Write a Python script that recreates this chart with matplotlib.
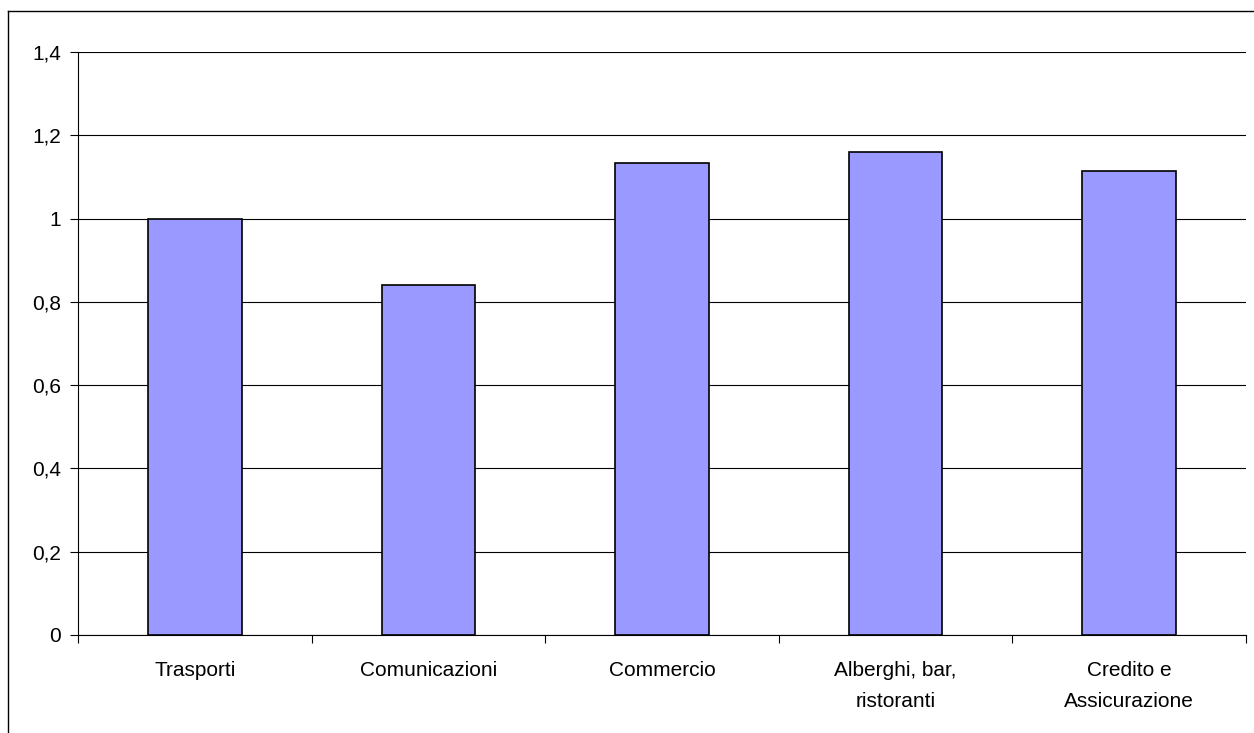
import numpy as np
import matplotlib.pyplot as plt
from matplotlib.lines import Line2D

categories = ["Trasporti", "Comunicazioni", "Commercio", "Alberghi, bar,\nristoranti", "Credito e\nAssicurazione"]
values = [1.0, 0.84, 1.133, 1.16, 1.114]
y_ticks = [0, 0.2, 0.4, 0.6, 0.8, 1.0, 1.2, 1.4]
y_labels = ["0", "0,2", "0,4", "0,6", "0,8", "1", "1,2", "1,4"]

plt.rcParams['font.family'] = ['Liberation Sans', 'DejaVu Sans']

fig = plt.figure(figsize=(12.54, 7.33), dpi=100)
ax = fig.add_axes([78 / 1254, 98 / 733, 1168 / 1254, 583 / 733])

x = np.arange(len(categories))
ax.bar(x, values, width=0.40, color="#9999FF", edgecolor="black", linewidth=1.2, zorder=3)

ax.set_xlim(-0.5, len(categories) - 0.5)
ax.set_ylim(0, 1.4)
ax.set_yticks(y_ticks)
ax.set_yticklabels(y_labels, fontsize=15)
ax.yaxis.grid(True, color="black", linewidth=0.8)
ax.set_axisbelow(True)

# ticks between categories, labels at centers
ax.set_xticks(np.arange(-0.5, len(categories), 1.0))
ax.set_xticklabels([])
ax.set_xticks(x, minor=True)
ax.set_xticklabels(categories, minor=True, fontsize=15, linespacing=1.75)
ax.tick_params(axis="x", which="minor", length=0, pad=19)
ax.tick_params(axis="x", which="major", length=6, width=0.8, direction="out")
ax.tick_params(axis="y", length=6, width=0.8, direction="out", pad=6)

for s in ["top", "right"]:
    ax.spines[s].set_visible(False)
ax.spines["left"].set_linewidth(0.8)
ax.spines["bottom"].set_linewidth(0.8)

# outer chart border (left and top visible)
fig.add_artist(Line2D([8 / 1254, 8 / 1254], [0, 1 - 11 / 733], transform=fig.transFigure, color="black", lw=1))
fig.add_artist(Line2D([8 / 1254, 1], [1 - 11 / 733, 1 - 11 / 733], transform=fig.transFigure, color="black", lw=1))

fig.savefig("out.png", dpi=100)
